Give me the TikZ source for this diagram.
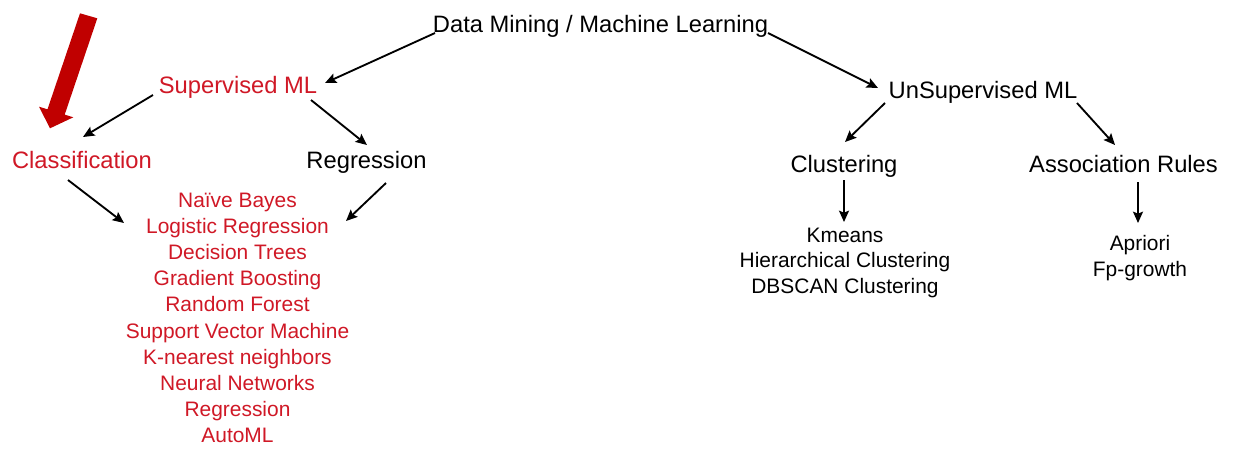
\documentclass[tikz,border=0pt]{standalone}
\usepackage{fontspec}
\setmainfont{Liberation Sans}
\usetikzlibrary{arrows.meta}
\definecolor{mlred}{RGB}{208,24,38}
\definecolor{arrowred}{RGB}{192,0,0}
\begin{document}
\begin{tikzpicture}[x=0.75pt,y=-0.75pt,
  lbl/.style={inner sep=0pt,anchor=base,font=\fontsize{17.8}{21}\selectfont},
  item/.style={inner sep=0pt,anchor=base,font=\fontsize{15.7}{19}\selectfont},
  hot/.style={text=mlred},
  link/.style={line width=1.4pt,-{Stealth[length=8.5pt,width=7.5pt,inset=1.5pt]}}]
\useasboundingbox[fill=white] (0,0) rectangle (1245,469);

% headings
\node[lbl] (dm) at (600.5,32) {Data Mining / Machine Learning};
\node[lbl,hot] (sup) at (238,93) {Supervised ML};
\node[lbl] (unsup) at (983,98) {UnSupervised ML};
\node[lbl,hot] (cls) at (82,168) {Classification};
\node[lbl] (reg) at (366.5,168) {Regression};
\node[lbl] (clu) at (844,172) {Clustering};
\node[lbl] (assoc) at (1123.5,172) {Association Rules};

% supervised algorithms
\foreach \t [count=\i] in {Naïve Bayes, Logistic Regression, Decision Trees,
    Gradient Boosting, Random Forest, Support Vector Machine,
    K-nearest neighbors, Neural Networks, Regression, AutoML}
  \node[item,hot] (alg\i) at (237.5,{207+26.2*(\i-1)}) {\t};

% clustering algorithms
\foreach \t [count=\i] in {Kmeans, Hierarchical Clustering, DBSCAN Clustering}
  \node[item] (km\i) at (845,{242+25.7*(\i-1)}) {\t};

% association rule algorithms
\foreach \t [count=\i] in {Apriori, Fp-growth}
  \node[item] (ap\i) at (1140,{250+26.5*(\i-1)}) {\t};

% connectors
\draw[link] ([shift={(-165.5,1)}]dm.base) -- ([shift={(87,-10)}]sup.base);
\draw[link] ([shift={(167.5,1)}]dm.base) -- ([shift={(-105,-10)}]unsup.base);
\draw[link] ([shift={(-85,2)}]sup.base) -- ([shift={(1,-31)}]cls.base);
\draw[link] ([shift={(73,7)}]sup.base) -- ([shift={(0.5,-23)}]reg.base);
\draw[link] ([shift={(-14,12)}]cls.base) -- ([shift={(-113.5,16)}]alg1.base);
\draw[link] ([shift={(19.5,15)}]reg.base) -- ([shift={(108.5,14)}]alg1.base);
\draw[link] ([shift={(-98,5)}]unsup.base) -- ([shift={(1,-30)}]clu.base);
\draw[link] ([shift={(94,5)}]unsup.base) -- ([shift={(-8.5,-27)}]assoc.base);
\draw[link] ([shift={(0,8)}]clu.base) -- ([shift={(-1,-20)}]km1.base);
\draw[link] ([shift={(14.5,10)}]assoc.base) -- ([shift={(-2,-27)}]ap1.base);

% big pointer arrow
\fill[arrowred] (80,13.3) -- (97.3,18.3) -- (64.7,114.6) -- (73.3,117.3)
  -- (50,128.3) -- (39,106.7) -- (47.5,109.3) -- cycle;
\end{tikzpicture}
\end{document}
